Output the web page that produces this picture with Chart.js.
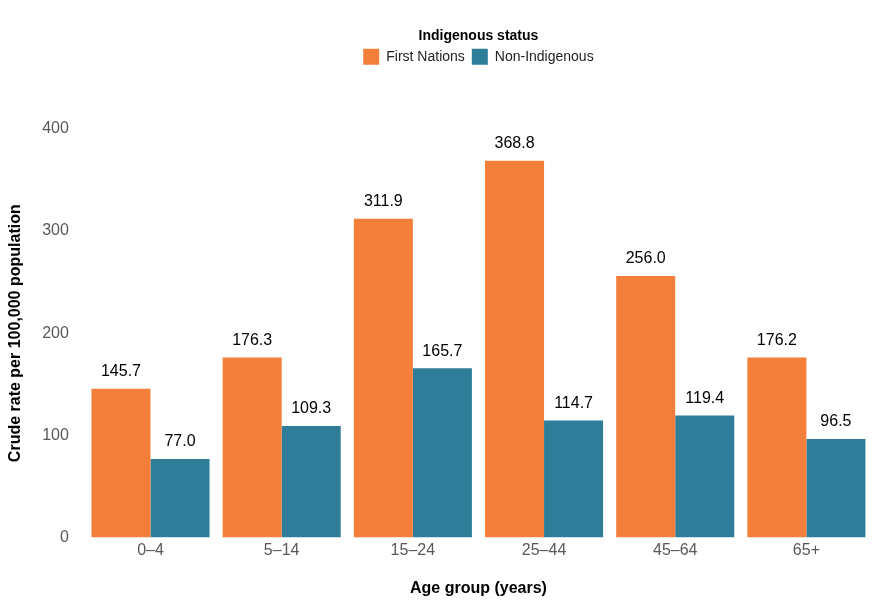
<!DOCTYPE html>
<html>
<head>
<meta charset="utf-8">
<script src="https://cdn.jsdelivr.net/npm/chart.js@4.4.1/dist/chart.umd.min.js"></script>
<style>
  html, body { margin: 0; padding: 0; background: #fff; }
  #wrap { width: 890px; height: 600px; }
</style>
</head>
<body>
<div id="wrap"><canvas id="barChart"></canvas></div>
<script>
// datos del grafico
const ageGroups = ["0\u20134", "5\u201314", "15\u201324", "25\u201344", "45\u201364", "65+"];
const firstNations = [145.7, 176.3, 311.9, 368.8, 256.0, 176.2];
const nonIndigenous = [77.0, 109.3, 165.7, 114.7, 119.4, 96.5];
const yTicks = [0, 100, 200, 300, 400];

Chart.defaults.font.family = "'Liberation Sans', Arial, sans-serif";
Chart.defaults.color = '#595959';

// etiquetas encima de cada barra
const barLabels = {
    id: 'barLabels',
    afterDatasetsDraw(chart) {
        const ctx = chart.ctx;
        ctx.save();
        ctx.font = "16px 'Liberation Sans', Arial, sans-serif";
        ctx.fillStyle = '#000';
        ctx.textAlign = 'center';
        ctx.textBaseline = 'bottom';
        chart.data.datasets.forEach((ds, i) => {
            chart.getDatasetMeta(i).data.forEach((bar, j) => {
                ctx.fillText(ds.data[j].toFixed(1), bar.x, bar.y - 9);
            });
        });
        ctx.restore();
    }
};

// espacio extra bajo la leyenda
const legendGap = {
    id: 'legendGap',
    beforeInit(chart) {
        const fit = chart.legend.fit;
        chart.legend.fit = function () {
            fit.bind(chart.legend)();
            this.height += 54;
        };
    }
};

const data = {
    labels: ageGroups,
    datasets: [{
        label: "First Nations",
        data: firstNations,
        backgroundColor: '#F47F3B',
        borderWidth: 0
    }, {
        label: "Non-Indigenous",
        data: nonIndigenous,
        backgroundColor: '#2E7D99',
        borderWidth: 0
    }]
};

const options = {
    responsive: true,
    maintainAspectRatio: false,
    animation: false,
    datasets: { bar: { categoryPercentage: 0.9, barPercentage: 1.0 } },
    layout: { padding: { top: 29, right: 18, left: 6, bottom: 2 } },
    plugins: {
        legend: {
            position: 'top',
            fullSize: false,
            title: {
                display: true,
                text: 'Indigenous status',
                color: '#000',
                font: { size: 14, weight: 'bold' },
                padding: { top: 0, bottom: -4 }
            },
            labels: {
                boxWidth: 16,
                boxHeight: 16,
                color: '#222',
                font: { size: 14 },
                padding: 7
            }
        },
        tooltip: { enabled: false }
    },
    scales: {
        x: {
            grid: { display: false, drawTicks: false },
            border: { display: false },
            ticks: { font: { size: 16 }, color: '#595959', padding: 3 },
            title: {
                display: true,
                text: 'Age group (years)',
                color: '#000',
                font: { size: 16, weight: 'bold' },
                padding: { top: 16, bottom: 0 }
            }
        },
        y: {
            min: 0,
            max: 400,
            grid: { display: false, drawTicks: false },
            border: { display: false },
            afterBuildTicks: axis => { axis.ticks = yTicks.map(v => ({ value: v })); },
            ticks: { font: { size: 16 }, color: '#595959', padding: 16 },
            title: {
                display: true,
                text: 'Crude rate per 100,000 population',
                color: '#000',
                font: { size: 16, weight: 'bold' },
                padding: { top: 0, bottom: 1 }
            }
        }
    }
};

new Chart("barChart", { type: "bar", data, options, plugins: [barLabels, legendGap] });
</script>
</body>
</html>
